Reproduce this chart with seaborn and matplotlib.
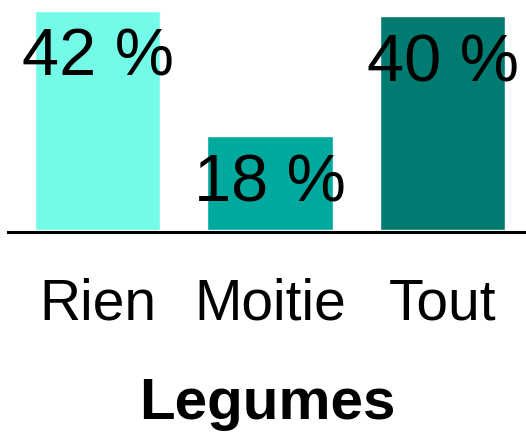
import pandas as pd
import seaborn as sns
import matplotlib.pyplot as plt

# data
categories = ["Rien", "Moitie", "Tout"]
values = [42, 18, 41]
labels = ["42 %", "18 %", "40 %"]
colors = ["#74FBE8", "#00A99E", "#007B72"]

sns.set_style("white")
plt.rcParams["font.family"] = ["Liberation Sans", "DejaVu Sans"]
plt.rcParams["text.color"] = "black"
plt.rcParams["xtick.color"] = "black"
plt.rcParams["axes.labelcolor"] = "black"

df = pd.DataFrame({"cat": categories, "val": values})

fig = plt.figure(figsize=(5.26, 4.35), dpi=100)
ax = fig.add_axes([8 / 526, 1 - 231 / 435, 1 - 8 / 526, 231 / 435])

sns.barplot(data=df, x="cat", y="val", hue="cat", palette=colors,
            width=0.725, legend=False, ax=ax, saturation=1)

ax.set_xlim(-0.519, 2.484)
ax.set_ylim(0, 44.3)

for i, (v, lab) in enumerate(zip(values, labels)):
    ax.annotate(lab, (i, v), xytext=(0, -47), textcoords="offset pixels",
                ha="center", va="center", fontsize=48, color="black")

for s in ["top", "left", "right"]:
    ax.spines[s].set_visible(False)
ax.spines["bottom"].set_color("black")
ax.spines["bottom"].set_linewidth(2.2)
ax.spines["bottom"].set_position(("outward", 1.2))

ax.set_yticks([])
ax.set_ylabel("")
ax.tick_params(axis="x", length=0, pad=32, labelsize=41, labelcolor="black")
ax.set_xlabel("Legumes", fontsize=42, fontweight="bold", labelpad=33, color="black")

fig.savefig("out.png", dpi=100)
